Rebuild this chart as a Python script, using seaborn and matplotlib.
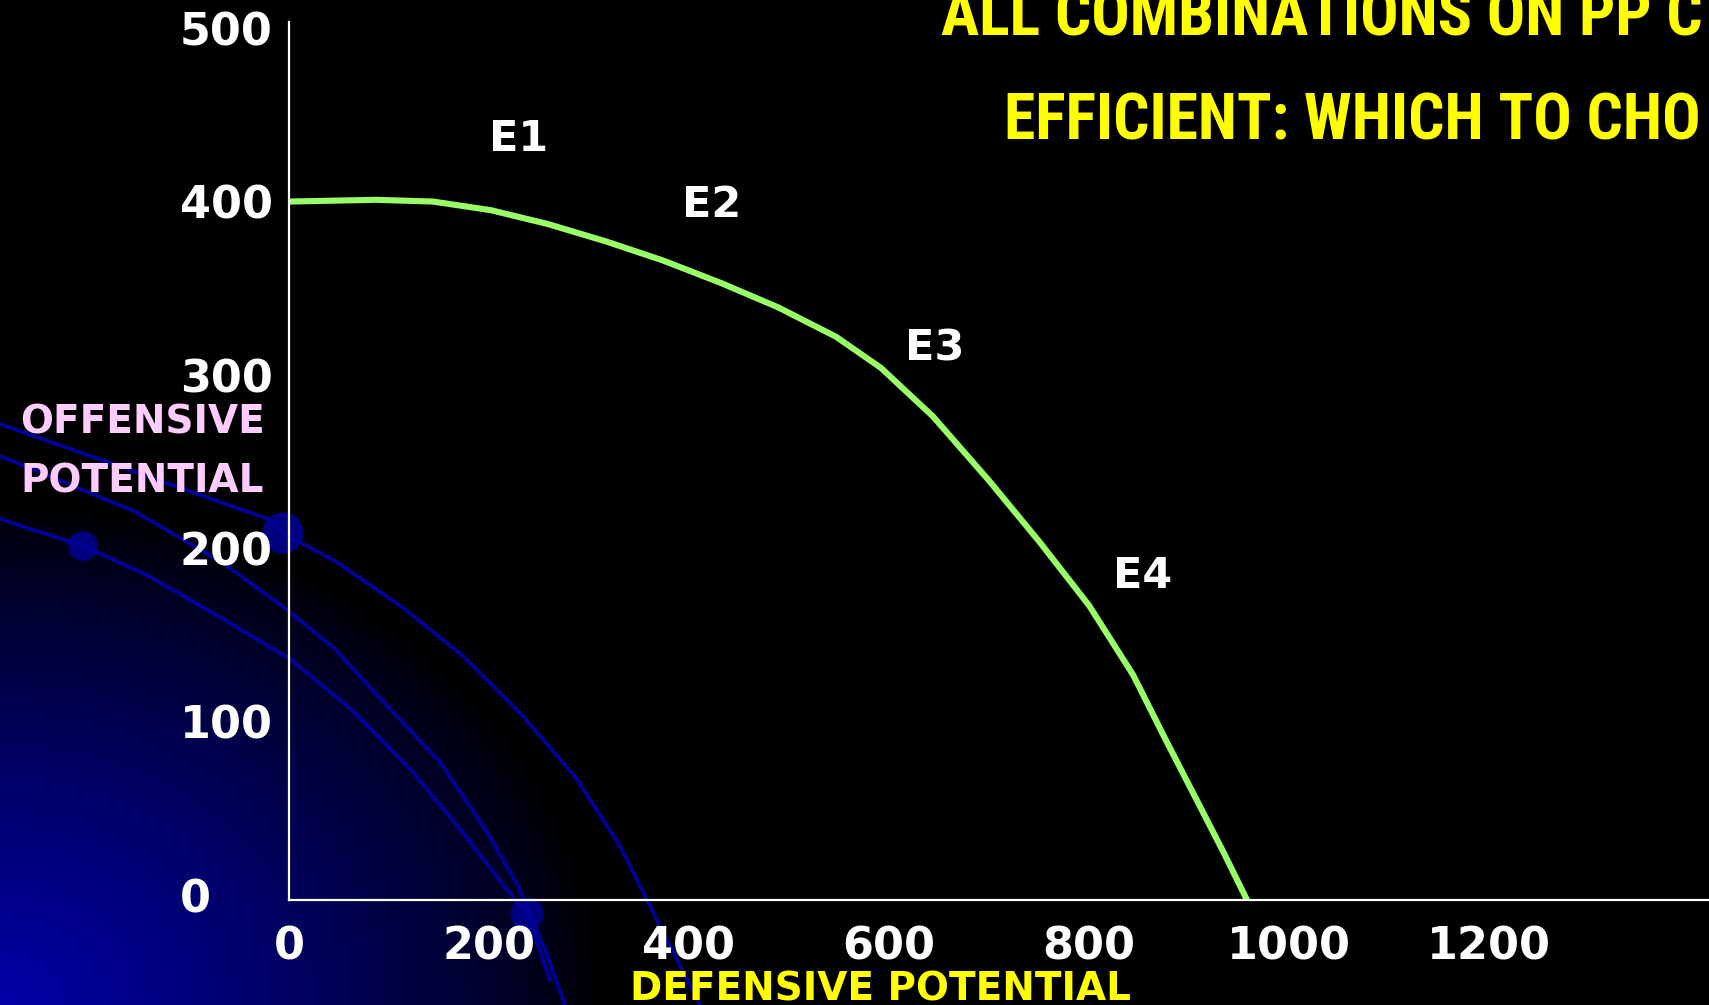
import numpy as np
import seaborn as sns
import matplotlib
matplotlib.use("Agg")
import matplotlib.pyplot as plt
from matplotlib import font_manager
from matplotlib.transforms import ScaledTranslation

sns.set_theme(style="white")
plt.rcParams['font.family'] = ['DejaVu Sans']

# production possibilities curve
defensive = [0, 87, 144, 202, 259, 317, 374, 432, 489, 547, 592, 644, 700, 750, 800, 844, 878, 911, 935, 958]
offensive = [403, 404, 403, 398, 390, 380, 369, 356, 342, 325, 307, 279, 242, 207, 170, 130, 91, 54, 27, 0]

point_names = ["E1", "E2", "E3", "E4"]
point_x = [230, 423, 646, 854]
point_y = [439, 401, 318, 187]

x_ticks = [0, 200, 400, 600, 800, 1000, 1200]
y_ticks = [0, 100, 200, 300, 400, 500]

title_lines = ["ALL COMBINATIONS ON PP C", "EFFICIENT: WHICH TO CHO"]

# slide template decoration (pixel coords, lower-left swirl)
arc_a = ([0, 268, 283, 335, 402, 464, 522, 576, 620, 670, 700],
         [424, 519, 533, 561, 607, 657, 715, 778, 846, 946, 1005])
arc_b = ([0, 134, 223, 286, 335, 388, 440, 487, 518, 545, 565],
         [456, 511, 563, 609, 649, 707, 762, 832, 886, 950, 1005])
arc_c = ([0, 83, 147, 223, 290, 353, 411, 464, 504, 527, 550],
         [519, 546, 575, 619, 659, 711, 770, 834, 886, 914, 980])
dots_x = [283, 83, 527]
dots_y = [533, 546, 914]
dots_r = [20, 14, 16]

W, H = 1709, 1005
fig = plt.figure(figsize=(W / 100, H / 100), dpi=100, facecolor="black")

# background: blue glow in the lower-left corner
bg = fig.add_axes([0, 0, 1, 1], zorder=0)
bg.set_xlim(0, W)
bg.set_ylim(H, 0)
bg.axis("off")
gx, gy = np.meshgrid(np.arange(W), np.arange(H))
r = np.sqrt((gx / 600.0) ** 2 + ((H - gy) / 500.0) ** 2)
t = np.clip(1 - r, 0, 1) ** 0.8
img = np.zeros((H, W, 3))
img[..., 2] = 0.66 * t
bg.imshow(img, extent=[0, W, H, 0], aspect="auto")
for ax_, ay_ in (arc_a, arc_b, arc_c):
    bg.plot(ax_, ay_, color=(0, 0, 0.6), lw=2.8, solid_joinstyle="miter")
for dx, dy, dr in zip(dots_x, dots_y, dots_r):
    bg.add_patch(plt.Circle((dx, dy), dr, color=(0, 0, 0.5)))

# main chart
ax = fig.add_axes([289 / W, 105 / H, 1420 / W, 878 / H], zorder=1)
ax.set_facecolor("none")
sns.lineplot(x=defensive, y=offensive, ax=ax, color="#99FF66", lw=4.4)

for name, px, py in zip(point_names, point_x, point_y):
    ax.text(px, py, name, color="white", fontsize=31, fontweight="bold",
            ha="center", va="center")

ax.set_xlim(0, 1420)
ax.set_ylim(0, 506.6)
ax.set_xticks(x_ticks)
ax.set_yticks(y_ticks)
ax.set_xticklabels([str(v) for v in x_ticks])
ax.set_yticklabels([str(v) for v in y_ticks])
ax.tick_params(axis="x", length=0, pad=18, colors="white", labelsize=32)
ax.tick_params(axis="y", length=0, pad=78.5, colors="white", labelsize=32)
for lbl in ax.get_xticklabels() + ax.get_yticklabels():
    lbl.set_fontweight("bold")
lift = ScaledTranslation(0, 5 / 100, fig.dpi_scale_trans)
for lbl in ax.get_yticklabels():
    lbl.set_ha("left")
    lbl.set_transform(lbl.get_transform() + lift)

for side in ("top", "right"):
    ax.spines[side].set_visible(False)
for side in ("left", "bottom"):
    ax.spines[side].set_color("white")
    ax.spines[side].set_linewidth(1.6)
ax.grid(False)

ax.set_xlabel("DEFENSIVE POTENTIAL", color="yellow", fontsize=28, fontweight="bold")
ax.xaxis.set_label_coords((880 - 289) / 1420, (900 - 1000) / 878)
ax.xaxis.label.set_va("baseline")

ax.set_ylabel("OFFENSIVE\nPOTENTIAL", color="#FFCCFF", fontsize=28, fontweight="bold",
              rotation=0, ha="left", va="center", linespacing=1.68)
ax.yaxis.set_label_coords((20 - 289) / 1420, (900 - 452) / 878)

# title, running off the right edge as on the slide; prefer a narrow face
tfam, tsize, tstretch = "Liberation Sans", 38, "normal"
for f in font_manager.fontManager.ttflist:
    narrow = ("Narrow" in f.name or "Condensed" in f.name
              or f.stretch in ("condensed", "semi-condensed"))
    if narrow and ("Liberation" in f.name or "Roboto" in f.name or "Open Sans" in f.name):
        tfam, tsize, tstretch = f.name, 46, f.stretch
        break
for i, (line, lx, ly) in enumerate(zip(title_lines, [941, 1004], [35, 139])):
    fig.text(lx / W, 1 - ly / H, line, color="yellow", fontsize=tsize,
             fontweight="bold", fontstretch=tstretch, family=[tfam, "DejaVu Sans"],
             ha="left", va="baseline")

fig.savefig("out.png", dpi=100, facecolor="black")
